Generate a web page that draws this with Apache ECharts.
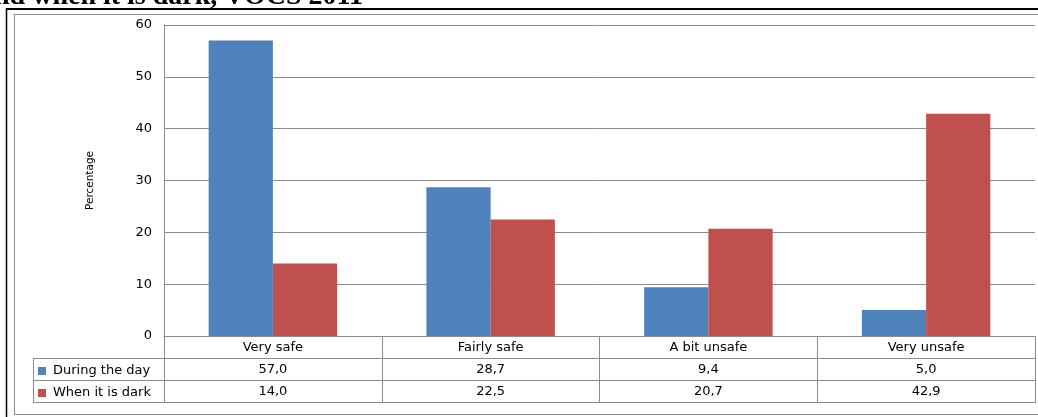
<!DOCTYPE html>
<html>
<head>
<meta charset="utf-8">
<script src="https://cdn.jsdelivr.net/npm/echarts@6/dist/echarts.min.js"></script>
<style>
  html, body { margin: 0; padding: 0; background: #fff; }
  #chart { width: 1038px; height: 417px; }
</style>
</head>
<body>
<div id="chart"></div>
<script>
const categories = ['Very safe', 'Fairly safe', 'A bit unsafe', 'Very unsafe'];
const dayValues = [57.0, 28.7, 9.4, 5.0];
const darkValues = [14.0, 22.5, 20.7, 42.9];
const seriesNames = ['During the day', 'When it is dark'];
const yTicks = { min: 0, max: 60, interval: 10 };

const blue = '#4F81BD';
const red = '#C0504D';
const lineGrey = '#8c8c8c';
const font = '"DejaVu Sans", Verdana, sans-serif';

// decimal comma, as in the table
const fmt = v => v.toFixed(1).replace('.', ',');

const chart = echarts.init(document.getElementById('chart'));

// one extra x axis per table row, stacked under the plot with offset
function tableAxis(data, offset, showLabel) {
  return {
    type: 'category',
    data: data,
    position: 'bottom',
    offset: offset,
    axisLine: { show: true, lineStyle: { color: lineGrey, width: 1 } },
    axisTick: { show: false },
    axisLabel: {
      show: showLabel,
      interval: 0,
      margin: 5,
      color: '#000',
      fontSize: 13,
      fontFamily: font
    },
    splitLine: { show: false }
  };
}

const option = {
  animation: false,
  grid: { left: 164, right: 3, top: 25, bottom: 81, containLabel: false },
  legend: {
    orient: 'vertical',
    left: 38,
    top: 364,
    padding: 0,
    itemWidth: 8,
    itemHeight: 8,
    itemGap: 8,
    icon: 'rect',
    data: seriesNames,
    textStyle: { color: '#000', fontSize: 13, fontFamily: font, lineHeight: 14, padding: [0, 0, 0, 2] }
  },
  xAxis: [
    {
      type: 'category',
      data: categories,
      position: 'bottom',
      axisLine: { show: true, lineStyle: { color: lineGrey } },
      axisTick: { show: true, length: 67, lineStyle: { color: lineGrey } },
      axisLabel: { interval: 0, margin: 5, color: '#000', fontSize: 13, fontFamily: font },
      splitLine: { show: false }
    },
    tableAxis(dayValues.map(fmt), 22.5, true),
    tableAxis(darkValues.map(fmt), 44.5, true),
    tableAxis(categories.map(() => ''), 66.5, false)
  ],
  yAxis: {
    type: 'value',
    min: yTicks.min,
    max: yTicks.max,
    interval: yTicks.interval,
    name: 'Percentage',
    nameLocation: 'middle',
    nameGap: 68,
    nameRotate: 90,
    nameTextStyle: { color: '#000', fontSize: 10.5, fontFamily: font },
    axisLine: { show: true, lineStyle: { color: lineGrey } },
    axisTick: { show: false },
    axisLabel: { margin: 12, color: '#000', fontSize: 13, fontFamily: font },
    splitLine: { show: true, lineStyle: { color: lineGrey, width: 1 } }
  },
  series: [
    {
      name: seriesNames[0],
      type: 'bar',
      xAxisIndex: 0,
      data: dayValues,
      barGap: '0%',
      barCategoryGap: '41%',
      itemStyle: { color: blue }
    },
    {
      name: seriesNames[1],
      type: 'bar',
      xAxisIndex: 0,
      data: darkValues,
      barGap: '0%',
      barCategoryGap: '41%',
      itemStyle: { color: red }
    }
  ],
  graphic: [
    // cut-off heading above the frame
    {
      type: 'text',
      x: 363,
      y: 10.5,
      style: {
        text: 'and when it is dark, VOCS 2011',
        font: 'bold 28px "Liberation Serif", "Times New Roman", serif',
        fill: '#000',
        textAlign: 'right',
        textVerticalAlign: 'bottom'
      }
    },
    // page frame
    { type: 'line', shape: { x1: 6, y1: 9, x2: 1038, y2: 9 }, style: { stroke: '#000', lineWidth: 2 } },
    { type: 'line', shape: { x1: 6.5, y1: 8, x2: 6.5, y2: 417 }, style: { stroke: '#000', lineWidth: 1.5 } },
    // chart area border
    { type: 'line', shape: { x1: 14, y1: 14.5, x2: 1038, y2: 14.5 }, style: { stroke: lineGrey, lineWidth: 1 } },
    { type: 'line', shape: { x1: 14.5, y1: 14, x2: 14.5, y2: 415 }, style: { stroke: lineGrey, lineWidth: 1 } },
    { type: 'line', shape: { x1: 14, y1: 414.5, x2: 1038, y2: 414.5 }, style: { stroke: lineGrey, lineWidth: 1 } },
    // legend column of the data table
    { type: 'line', shape: { x1: 33.5, y1: 359, x2: 33.5, y2: 403 }, style: { stroke: lineGrey, lineWidth: 1 } },
    { type: 'line', shape: { x1: 33, y1: 358.5, x2: 164, y2: 358.5 }, style: { stroke: lineGrey, lineWidth: 1 } },
    { type: 'line', shape: { x1: 33, y1: 380.5, x2: 164, y2: 380.5 }, style: { stroke: lineGrey, lineWidth: 1 } },
    { type: 'line', shape: { x1: 33, y1: 402.5, x2: 164, y2: 402.5 }, style: { stroke: lineGrey, lineWidth: 1 } }
  ]
};

chart.setOption(option);
</script>
</body>
</html>
